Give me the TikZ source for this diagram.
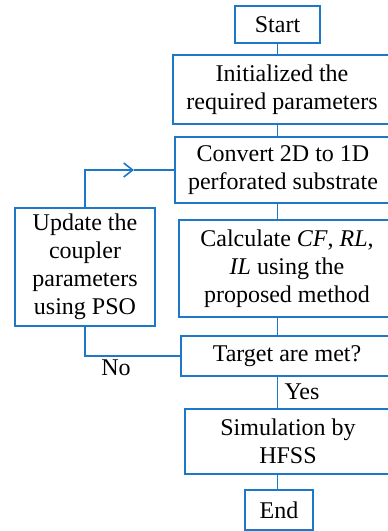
\documentclass[tikz,border=0pt]{standalone}
\usepackage{fontspec}
\setmainfont{Liberation Serif}
\newfontfamily\flowfont{Liberation Serif}
\usepackage{tikz}
\usetikzlibrary{arrows.meta, calc, positioning}

\definecolor{flowblue}{RGB}{30,120,200}

\begin{document}
\begin{tikzpicture}[x=1pt, y=-1pt,
  box/.style={draw=flowblue, line width=1.6pt, align=center, inner sep=0pt,
    font=\flowfont\fontsize{24}{28}\selectfont},
  link/.style={draw=flowblue, line width=1.6pt},
  lbl/.style={font=\flowfont\fontsize{24}{28}\selectfont}]
\useasboundingbox (0,0) rectangle (388,531);
\clip (0,0) rectangle (388,531);

% Main column
\node[box, minimum width=85, minimum height=37] (start) at (277.5,24.5) {Start};
\node[box, minimum width=218, minimum height=69] (init) at (282,89.5) {Initialized the\\required parameters};
\node[box, minimum width=216, minimum height=66] (conv) at (283,170) {Convert 2D to 1D\\perforated substrate};
\node[box, minimum width=216, minimum height=97] (calc) at (287,268.5) {Calculate \textit{CF}, \textit{RL},\\\textit{IL} using the\\proposed method};
\node[box, minimum width=212, minimum height=40] (target) at (287,356) {Target are met?};
\node[box, minimum width=206, minimum height=65] (sim) at (288,441.5) {Simulation by\\HFSS};
\node[box, minimum width=68, minimum height=40, anchor=north] (endn) at (279,489) {End};
\draw[link] (endn.south west) -- ++(0,12) (endn.south east) -- ++(0,12);

% Side box
\node[box, minimum width=140, minimum height=118] (update) at (85,267) {Update the\\coupler\\parameters\\using PSO};

% Connectors
\draw[link] (start.south) -- (start.south |- init.north);
\draw[link] (start.south |- init.south) -- (start.south |- conv.north);
\draw[link] (start.south |- conv.south) -- (start.south |- calc.north);
\draw[link] (start.south |- calc.south) -- (start.south |- target.north);
\draw[link] (start.south |- target.south) -- (start.south |- sim.north);
\draw[link] (start.south |- sim.south) -- (start.south |- endn.north);

% Loop back
\coordinate (tip) at (134,170);
\draw[link] (target.west) -| (update.south);
\draw[link, -{Straight Barb[length=9pt,width=14pt]}] (update.north) |- (tip);
\draw[link] (tip) -- (conv.west);

% Labels
\node[lbl] (nolabel) at (116,368) {No};
\node[lbl] (yeslabel) at (302,392) {Yes};

\end{tikzpicture}
\end{document}
